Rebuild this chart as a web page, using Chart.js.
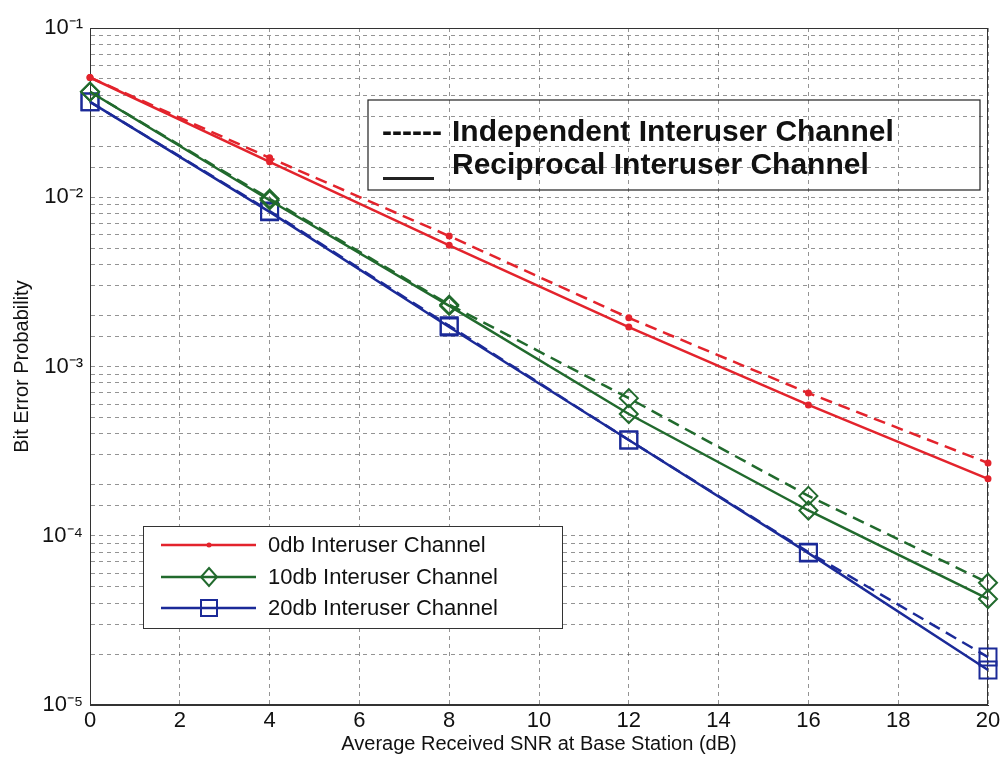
<!DOCTYPE html>
<html>
<head>
<meta charset="utf-8">
<script src="https://cdn.jsdelivr.net/npm/chart.js"></script>
<style>
  html, body { margin: 0; padding: 0; background: #fff; }
  #wrap { width: 1007px; height: 760px; position: relative; }
</style>
</head>
<body>
<div id="wrap"><canvas id="berChart" width="1007" height="760"></canvas></div>
<script>
// SNR values (dB) where the curves were computed
const snr = [0, 4, 8, 12, 16, 20];

// bit error probability
const ber0Recip  = [0.051, 0.0162, 0.0052, 0.00171, 0.000593, 0.000217];
const ber0Indep  = [0.051, 0.0171, 0.0059, 0.00194, 0.000697, 0.000269];
const ber10Recip = [0.042, 0.0096, 0.00228, 0.000524, 0.000141, 0.0000423];
const ber10Indep = [0.042, 0.0098, 0.00232, 0.00065, 0.000172, 0.0000528];
const ber20Recip = [0.0366, 0.0082, 0.00171, 0.000368, 0.000079, 0.0000161];
const ber20Indep = [0.0366, 0.0083, 0.00174, 0.000368, 0.000080, 0.0000192];

const seriesNames = ['0db Interuser Channel', '10db Interuser Channel', '20db Interuser Channel'];
const styleNames = ['Independent Interuser Channel', 'Reciprocal Interuser Channel'];

const xTickStep = 2;
const yDecadeLabels = { '-5': '10\u207B\u2075', '-4': '10\u207B\u2074', '-3': '10\u207B\u00B3', '-2': '10\u207B\u00B2', '-1': '10\u207B\u00B9' };

const RED = '#e3232c', GREEN = '#216a2d', BLUE = '#1b2a98';
const FONT = '"Liberation Sans", Arial, sans-serif';

function pts(ys) { return snr.map((x, i) => ({ x: x, y: ys[i] })); }

function series(label, ys, color, shape, radius, dashed) {
  return {
    label: label,
    data: pts(ys),
    borderColor: color,
    borderWidth: 2.5,
    borderDash: dashed ? [12, 7] : [],
    pointStyle: shape,
    pointRadius: radius,
    pointBorderColor: color,
    pointBorderWidth: 2,
    pointBackgroundColor: shape === 'circle' ? color : 'rgba(0,0,0,0)',
    fill: false,
    tension: 0,
    clip: false
  };
}

const datasets = [
  series(seriesNames[0], ber0Indep, RED, 'circle', 2.5, true),
  series(seriesNames[0], ber0Recip, RED, 'circle', 2.5, false),
  series(seriesNames[1], ber10Indep, GREEN, 'rectRot', 9, true),
  series(seriesNames[1], ber10Recip, GREEN, 'rectRot', 9, false),
  series(seriesNames[2], ber20Indep, BLUE, 'rect', 12, true),
  series(seriesNames[2], ber20Recip, BLUE, 'rect', 12, false)
];

// box round the plot area, like matlab's "box on"
const framePlugin = {
  id: 'frame',
  beforeDatasetsDraw(chart) {
    const a = chart.chartArea, ctx = chart.ctx;
    ctx.save();
    ctx.strokeStyle = '#333';
    ctx.lineWidth = 1;
    ctx.setLineDash([]);
    ctx.strokeRect(a.left + 0.5, a.top + 0.5, a.right - a.left - 1, a.bottom - a.top - 1);
    ctx.restore();
  }
};

// the two hand-made legends
const legendPlugin = {
  id: 'legends',
  afterDraw(chart) {
    const ctx = chart.ctx;
    ctx.save();
    ctx.setLineDash([]);

    // line-style legend (transparent box, bold text)
    ctx.strokeStyle = '#222';
    ctx.lineWidth = 1.2;
    ctx.strokeRect(368, 100, 612, 90);
    ctx.fillStyle = '#111';
    ctx.font = 'bold 30px ' + FONT;
    ctx.textBaseline = 'alphabetic';
    ctx.fillText('------', 382, 141);
    ctx.fillText(styleNames[0], 452, 141);
    ctx.fillText(styleNames[1], 452, 174);
    ctx.lineWidth = 3;
    ctx.beginPath();
    ctx.moveTo(383, 178.5);
    ctx.lineTo(434, 178.5);
    ctx.stroke();

    // series legend (white box)
    ctx.fillStyle = '#fff';
    ctx.fillRect(143, 526, 419, 102);
    ctx.strokeStyle = '#333';
    ctx.lineWidth = 1;
    ctx.strokeRect(143.5, 526.5, 419, 102);
    const rows = [545, 577, 608];
    const cols = [RED, GREEN, BLUE];
    rows.forEach((y, i) => {
      ctx.strokeStyle = cols[i];
      ctx.lineWidth = 2.5;
      ctx.beginPath();
      ctx.moveTo(161, y);
      ctx.lineTo(256, y);
      ctx.stroke();
      ctx.lineWidth = 2;
      const mx = 209;
      if (i === 0) {
        ctx.fillStyle = RED;
        ctx.beginPath();
        ctx.arc(mx, y, 2.5, 0, Math.PI * 2);
        ctx.fill();
      } else if (i === 1) {
        ctx.beginPath();
        ctx.moveTo(mx, y - 9);
        ctx.lineTo(mx + 8, y);
        ctx.lineTo(mx, y + 9);
        ctx.lineTo(mx - 8, y);
        ctx.closePath();
        ctx.stroke();
      } else {
        ctx.strokeRect(mx - 8, y - 8, 16, 16);
      }
      ctx.fillStyle = '#111';
      ctx.font = '22px ' + FONT;
      ctx.textBaseline = 'middle';
      ctx.fillText(seriesNames[i], 268, y + 1);
    });
    ctx.restore();
  }
};

const gridOpts = { color: 'rgba(60,60,60,0.55)', lineWidth: 1, drawTicks: false };
const borderOpts = { color: '#333', width: 1, dash: [4, 4] };

new Chart(document.getElementById('berChart'), {
  type: 'line',
  data: { datasets: datasets },
  options: {
    responsive: false,
    animation: false,
    devicePixelRatio: 1,
    layout: { padding: { left: 0, top: 28, right: 19, bottom: 0 } },
    plugins: { legend: { display: false }, tooltip: { enabled: false } },
    scales: {
      x: {
        type: 'linear',
        min: snr[0],
        max: snr[snr.length - 1],
        grid: gridOpts,
        border: borderOpts,
        ticks: { stepSize: xTickStep, color: '#111', font: { family: FONT, size: 22 }, padding: 3, maxRotation: 0 },
        title: { display: true, text: 'Average Received SNR at Base Station (dB)', color: '#111',
                 font: { family: FONT, size: 20 }, padding: { top: 0, bottom: 4 } },
        afterFit(scale) { scale.height = 55; }
      },
      y: {
        type: 'logarithmic',
        min: 1e-5,
        max: 1e-1,
        grid: gridOpts,
        border: borderOpts,
        ticks: {
          autoSkip: false,
          color: '#111',
          font: { family: FONT, size: 22 },
          padding: 7,
          callback(v) {
            const e = Math.log10(v);
            return Math.abs(e - Math.round(e)) < 1e-9 ? (yDecadeLabels[String(Math.round(e))] || '') : '';
          }
        },
        title: { display: true, text: 'Bit Error Probability', color: '#111',
                 font: { family: FONT, size: 20 }, padding: { top: 10, bottom: 0 } },
        afterFit(scale) { scale.width = 90; }
      }
    }
  },
  plugins: [framePlugin, legendPlugin]
});
</script>
</body>
</html>
